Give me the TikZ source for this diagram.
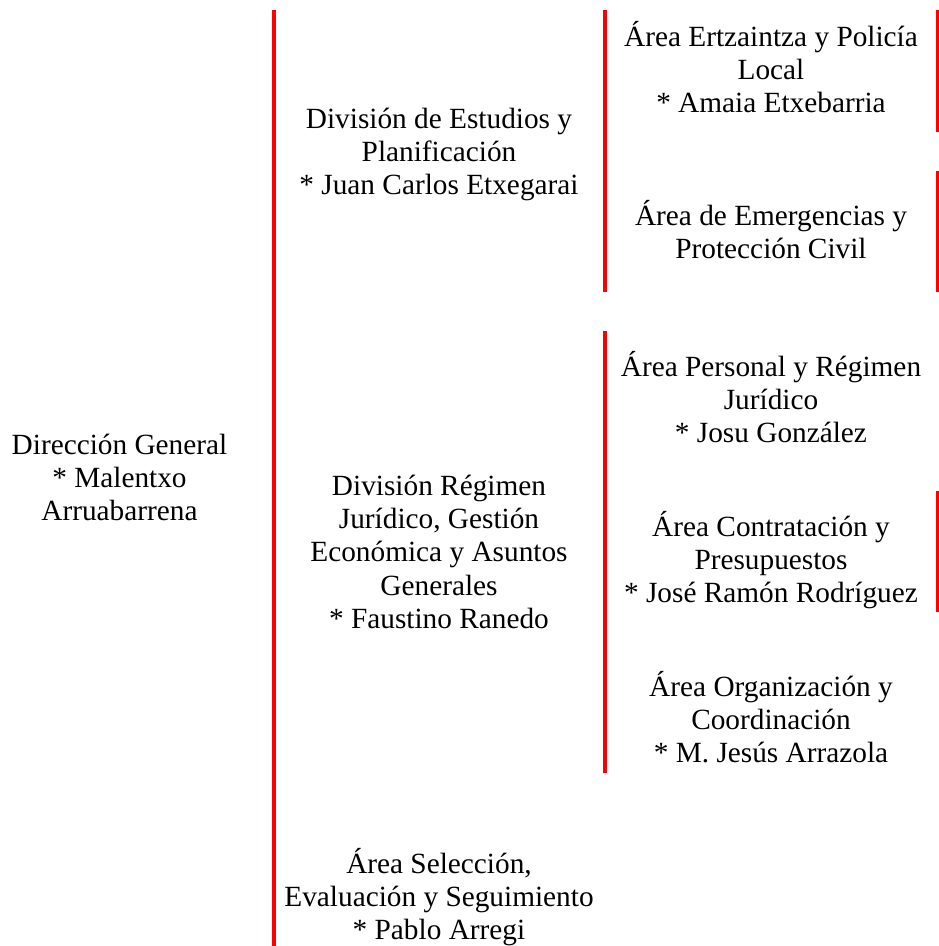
\documentclass[tikz,border=0pt]{standalone}
\usepackage{fontspec}
\setmainfont{Liberation Serif}
\definecolor{rojo}{HTML}{FF0000}
\newcommand\letra{\fontsize{29.3}{33.4}\selectfont}

\begin{document}
\begin{tikzpicture}[x=1pt,y=-1pt,
  cargo/.style={font=\letra,align=center,anchor=base,inner sep=0pt},
  raya/.style={rojo,line width=4pt}]
  \useasboundingbox (0,0) rectangle (939,946);
  % rayas rojas de las celdas
  \draw[raya] (274,10) -- (274,946);
  \draw[raya] (605,10) -- (605,292);
  \draw[raya] (605,331) -- (605,773);
  \draw[raya] (937.5,10) -- (937.5,132);
  \draw[raya] (937.5,171) -- (937.5,292);
  \draw[raya] (937.5,491) -- (937.5,612);
  % cargos (base = ultima linea)
  \node[cargo] (dg) at (119.5,520.8) {Dirección General\\* Malentxo\\Arruabarrena};
  \node[cargo] (div1) at (439,194.8) {División de Estudios y\\Planificación\\* Juan Carlos Etxegarai};
  \node[cargo] (div2) at (439,628.6) {División Régimen\\Jurídico, Gestión\\Económica y Asuntos\\Generales\\* Faustino Ranedo};
  \node[cargo] (sel) at (439,939.8) {Área Selección,\\Evaluación y Seguimiento\\* Pablo Arregi};
  \node[cargo] (ertz) at (771,112.8) {Área Ertzaintza y Policía\\Local\\* Amaia Etxebarria};
  \node[cargo] (emer) at (771,258.4) {Área de Emergencias y\\Protección Civil};
  \node[cargo] (pers) at (771,442.8) {Área Personal y Régimen\\Jurídico\\* Josu González};
  \node[cargo] (cont) at (771,602.8) {Área Contratación y\\Presupuestos\\* José Ramón Rodríguez};
  \node[cargo] (org) at (771,762.8) {Área Organización y\\Coordinación\\* M. Jesús Arrazola};
\end{tikzpicture}
\end{document}
